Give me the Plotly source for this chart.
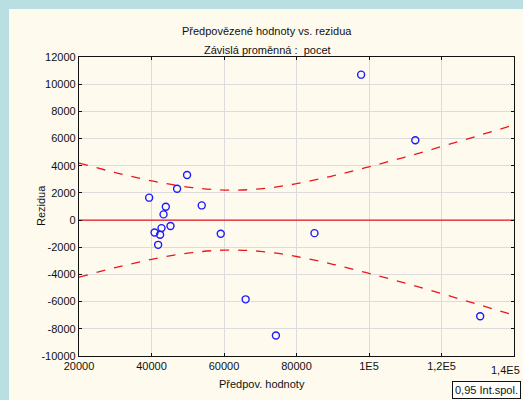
import plotly.graph_objects as go

# Data
pred = [39350, 49810, 47060, 43950, 43320, 53860, 42760, 45240, 40840, 42380,
        41830, 59100, 97830, 112770, 84960, 65970, 74320, 130670]
resid = [1650, 3320, 2310, 980, 420, 1080, -590, -440, -910, -1080,
         -1820, -1010, 10700, 5880, -960, -5830, -8490, -7080]

band_x = [20000, 30000, 40000, 50000, 60000, 70000, 80000, 90000, 100000,
          110000, 120000, 130000, 140000]
band_upper = [4200, 3500, 2890, 2430, 2210, 2300, 2680, 3250, 3920, 4640, 5410, 6200, 7000]
band_lower = [-4200, -3500, -2890, -2430, -2210, -2300, -2680, -3250, -3920, -4640, -5410, -6200, -7000]

x_ticks = [20000, 40000, 60000, 80000, 100000, 120000, 140000]
x_labels = ["20000", "40000", "60000", "80000", "1E5", "1,2E5", "1,4E5"]
y_ticks = [12000, 10000, 8000, 6000, 4000, 2000, 0, -2000, -4000, -6000, -8000, -10000]
y_labels = [str(v) for v in y_ticks]

W, H = 523, 400
L, R, T, B = 79, 9, 57, 44
pw, ph = W - L - R, H - T - B

def px(x):
    return (x - L) / pw

def py(y):
    return (H - B - y) / ph

FONT = "Liberation Sans, Arial, sans-serif"

fig = go.Figure()
fig.add_trace(go.Scatter(x=band_x, y=band_upper, mode="lines", line=dict(color="#e8171b", width=1.3, dash="dash", shape="spline"), hoverinfo="skip", showlegend=False))
fig.add_trace(go.Scatter(x=band_x, y=band_lower, mode="lines", line=dict(color="#e8171b", width=1.3, dash="dash", shape="spline"), hoverinfo="skip", showlegend=False))
fig.add_trace(go.Scatter(x=[20000, 140000], y=[0, 0], mode="lines", line=dict(color="#e8171b", width=1.3), hoverinfo="skip", showlegend=False))
fig.add_trace(go.Scatter(x=pred, y=resid, mode="markers",
                         marker=dict(symbol="circle-open", size=7, color="#1a1aff", line=dict(width=1.4, color="#1a1aff")),
                         showlegend=False))

# last x tick label is drawn as an annotation so it stays inside the window
shown_x_labels = x_labels[:-1] + [""]

fig.update_layout(
    width=W, height=H,
    margin=dict(l=L, r=R, t=T, b=B, pad=0),
    paper_bgcolor="#b9dfe3",
    plot_bgcolor="#ffffff",
    font=dict(family=FONT, size=11, color="#111111"),
    showlegend=False,
    xaxis=dict(range=[20000, 140000], tickvals=x_ticks, ticktext=shown_x_labels,
               showgrid=True, gridcolor="#dcdcdc", gridwidth=1, zeroline=False,
               showline=True, linecolor="#111111", linewidth=1.3, mirror="ticks",
               ticks="inside", ticklen=3, tickcolor="#111111",
               tickfont=dict(size=11, family=FONT)),
    yaxis=dict(range=[-10000, 12000], tickvals=y_ticks, ticktext=y_labels,
               showgrid=True, gridcolor="#dcdcdc", gridwidth=1, zeroline=False,
               showline=True, linecolor="#111111", linewidth=1.3, mirror="ticks",
               ticks="inside", ticklen=3, tickcolor="#111111",
               tickfont=dict(size=11, family=FONT)),
    shapes=[dict(type="rect", xref="paper", yref="paper", layer="below",
                 x0=px(9), x1=px(530), y0=py(410), y1=py(9),
                 fillcolor="#fffaee", line=dict(width=0))],
    annotations=[
        dict(text="Předpovězené hodnoty vs. rezidua", xref="paper", yref="paper",
             x=px(267), y=py(23), showarrow=False, font=dict(size=11, family=FONT)),
        dict(text="Závislá proměnná :  pocet", xref="paper", yref="paper",
             x=px(267), y=py(42), showarrow=False, font=dict(size=11, family=FONT)),
        dict(text="Předpov. hodnoty", xref="paper", yref="paper",
             x=px(262), y=py(392), showarrow=False, font=dict(size=11, family=FONT)),
        dict(text="Rezidua", xref="paper", yref="paper", textangle=-90,
             x=px(33), y=py(206), showarrow=False, font=dict(size=11, family=FONT)),
        dict(text=x_labels[-1], xref="paper", yref="paper", xanchor="right", yanchor="middle",
             x=px(522), y=py(370), showarrow=False, font=dict(size=11, family=FONT)),
        dict(text="0,95 Int.spol.", xref="paper", yref="paper", xanchor="right", yanchor="bottom",
             x=px(521), y=py(399), showarrow=False, align="left",
             bordercolor="#111111", borderwidth=1, borderpad=2, bgcolor="#ffffff",
             font=dict(size=11, family=FONT)),
    ],
)

fig.write_html("out.html")
